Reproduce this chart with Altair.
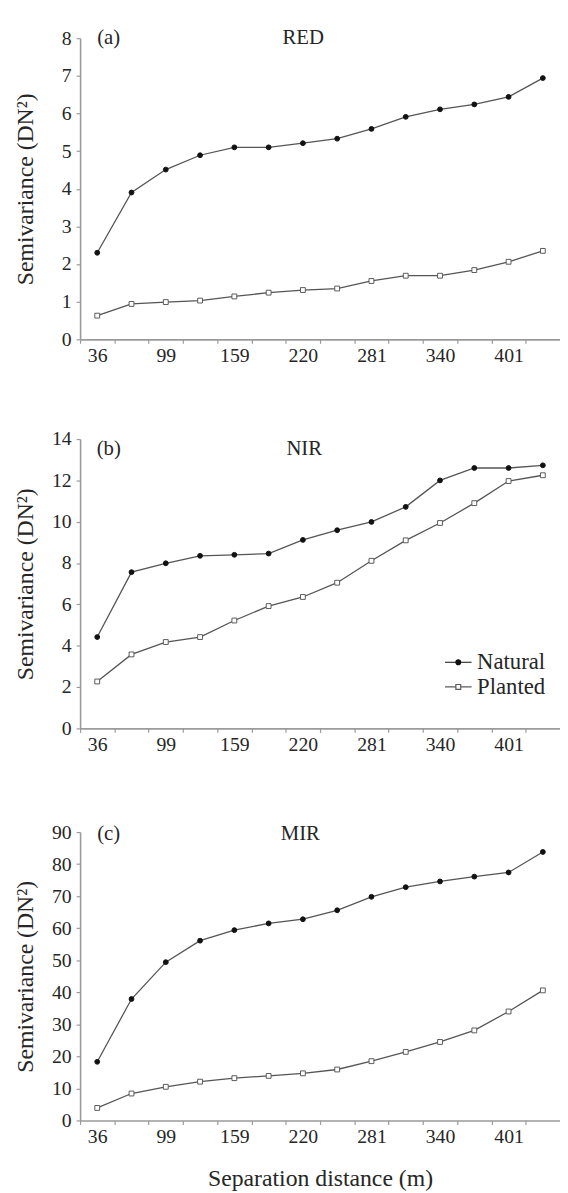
import json
import altair as alt
import pandas as pd

# ---------------- data ----------------
distance = [36, 67, 99, 129, 159, 190, 220, 250, 281, 310, 340, 370, 401, 432]
labeled = [36, 99, 159, 220, 281, 340, 401]
series_names = ["Natural", "Planted"]

red_natural = [2.30, 3.90, 4.51, 4.89, 5.10, 5.10, 5.21, 5.33, 5.59, 5.91, 6.11, 6.24, 6.44, 6.94]
red_planted = [0.63, 0.94, 0.99, 1.03, 1.14, 1.24, 1.31, 1.35, 1.55, 1.69, 1.69, 1.84, 2.06, 2.35]
nir_natural = [4.42, 7.56, 7.99, 8.35, 8.40, 8.46, 9.12, 9.59, 9.99, 10.72, 12.00, 12.60, 12.60, 12.73]
nir_planted = [2.27, 3.58, 4.18, 4.42, 5.22, 5.92, 6.36, 7.05, 8.11, 9.10, 9.94, 10.90, 11.97, 12.25]
mir_natural = [18.3, 37.9, 49.4, 56.1, 59.4, 61.5, 62.8, 65.6, 69.8, 72.8, 74.6, 76.1, 77.4, 83.8]
mir_planted = [3.9, 8.4, 10.5, 12.1, 13.2, 13.9, 14.7, 15.9, 18.5, 21.4, 24.5, 28.1, 34.0, 40.6]

panel_tags = ["(a)", "(b)", "(c)"]
panel_bands = ["RED", "NIR", "MIR"]
y_max = [8, 14, 90]
y_step = [1, 2, 10]

# ---------------- style ----------------
SERIF = "Liberation Serif"
TXT = "#262626"
AX = "#9a9a9a"
LINE = "#555555"
W = 486
STEP = W / len(distance)
heights = [305, 293, 292]
head_y = [0, 10, 2]
band_x = [226, 227, 223]

fill_range = ["#111111", "#ffffff"]
stroke_range = ["#111111", "#5a5a5a"]
# legend symbols: a short line segment with the marker in its middle
legend_shapes = [
    "M-1.1,0H1.1M-0.2,0A0.2,0.2,0,1,0,0.2,0A0.2,0.2,0,1,0,-0.2,0Z",
    "M-1.1,0H-0.2M0.2,0H1.1M-0.2,-0.2H0.2V0.2H-0.2Z",
]

label_expr = "indexof(%s, datum.value) >= 0 ? datum.label : ''" % json.dumps(labeled)


def make_legend():
    return alt.Legend(
        title=None,
        orient="none",
        legendX=370,
        legendY=213,
        direction="vertical",
        padding=0,
        rowPadding=0,
        labelFont=SERIF,
        labelFontSize=23,
        labelColor=TXT,
        labelOffset=6,
        symbolSize=600,
        symbolStrokeWidth=1.2,
        symbolOpacity=1,
    )


def panel(i, nat, pla, show_legend, xtitle):
    h = heights[i]
    df = pd.DataFrame({
        "distance": distance + distance,
        "semivar": nat + pla,
        "series": [series_names[0]] * len(distance) + [series_names[1]] * len(distance),
    })
    xaxis_kw = dict(
        labelExpr=label_expr, labelAngle=0, labelOverlap=False,
        tickOffset=-STEP / 2, labelOffset=STEP / 2,
        tickSize=4, tickColor=AX, tickWidth=1.2,
        labelPadding=2, labelFont=SERIF, labelFontSize=20, labelColor=TXT,
        domainColor=AX, domainWidth=1.6, grid=False,
        titleFont=SERIF, titleFontSize=24, titleColor=TXT, titleFontWeight="normal",
        titlePadding=21,
    )
    if xtitle:
        xaxis = alt.Axis(title=xtitle, **xaxis_kw)
    else:
        xaxis = alt.Axis(title=None, **xaxis_kw)
    x = alt.X("distance:O", sort=distance, axis=xaxis)
    y = alt.Y(
        "semivar:Q",
        scale=alt.Scale(domain=[0, y_max[i]], nice=False),
        axis=alt.Axis(
            values=list(range(0, y_max[i] + 1, y_step[i])),
            tickSize=4, tickColor=AX, tickWidth=1.2,
            labelPadding=5, labelFont=SERIF, labelFontSize=20, labelColor=TXT,
            domainColor=AX, domainWidth=1.6, grid=False,
            title="Semivariance (DN²)", titleFont=SERIF, titleFontSize=24,
            titleColor=TXT, titleFontWeight="normal",
            titleX=-43, titleY=h / 2, titleAngle=270,
            titleAlign="center", titleBaseline="bottom",
        ),
    )
    base = alt.Chart(df)
    line = base.mark_line(color=LINE, strokeWidth=1.3).encode(x=x, y=y, detail="series:N")
    pts = base.mark_point(size=24, strokeWidth=1, opacity=1).encode(
        x=x, y=y,
        shape=alt.Shape("series:N", scale=alt.Scale(domain=series_names, range=["circle", "square"]), legend=None),
        fill=alt.Fill("series:N", scale=alt.Scale(domain=series_names, range=fill_range), legend=None),
        stroke=alt.Stroke("series:N", scale=alt.Scale(domain=series_names, range=stroke_range), legend=None),
    )
    one = pd.DataFrame({"k": [0]})
    tag = alt.Chart(one).mark_text(
        text=panel_tags[i], font=SERIF, fontSize=21, color=TXT, align="center", baseline="middle"
    ).encode(x=alt.value(29), y=alt.value(head_y[i]))
    band = alt.Chart(one).mark_text(
        text=panel_bands[i], font=SERIF, fontSize=21, color=TXT, align="center", baseline="middle"
    ).encode(x=alt.value(band_x[i]), y=alt.value(head_y[i]))
    layers = [line, pts, tag, band]
    if show_legend:
        leg = make_legend()
        leg_layer = base.mark_point(size=24, strokeWidth=1.2, opacity=1).encode(
            x=x, y=y,
            shape=alt.Shape("series:N", scale=alt.Scale(domain=series_names, range=legend_shapes), legend=leg),
            fill=alt.Fill("series:N", scale=alt.Scale(domain=series_names, range=fill_range), legend=leg),
            stroke=alt.Stroke("series:N", scale=alt.Scale(domain=series_names, range=stroke_range), legend=leg),
        ).transform_filter("false")
        layers.append(leg_layer)
        return (
            alt.layer(*layers)
            .resolve_scale(shape="independent", fill="independent", stroke="independent")
            .properties(width=W, height=h)
        )
    return alt.layer(*layers).properties(width=W, height=h)


pa = panel(0, red_natural, red_planted, False, None)
pb = panel(1, nir_natural, nir_planted, True, None)
pc = panel(2, mir_natural, mir_planted, False, "Separation distance (m)")

chart = (
    alt.vconcat(pa, alt.vconcat(pb, pc, spacing=69), spacing=65)
    .resolve_scale(shape="independent", fill="independent", stroke="independent")
    .properties(padding={"top": 12, "left": 5, "right": 0, "bottom": 0})
    .configure_view(stroke=None)
)

chart.save("out.html", embed_options={"renderer": "svg", "actions": False})
